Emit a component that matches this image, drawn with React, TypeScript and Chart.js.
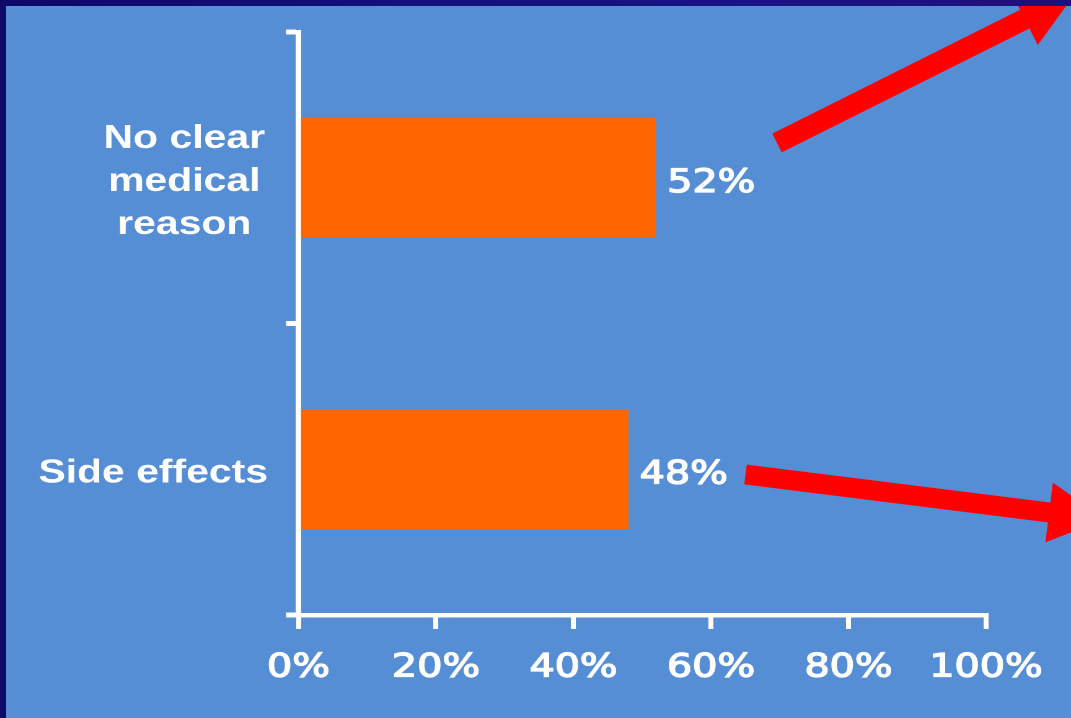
import { useEffect, useRef } from 'react';
import { Chart, registerables } from 'chart.js';

Chart.register(...registerables);

// Reasons and the share of each
const categories: string[][] = [['No clear', 'medical', 'reason'], ['Side effects']];
const shares: number[] = [52, 48];
const xTickValues: number[] = [0, 20, 40, 60, 80, 100];

// The slide is drawn narrow and then widened on screen
const PAGE_W = 1071;
const PAGE_H = 718;
const CANVAS_W = 864;
const STRETCH = PAGE_W / CANVAS_W;

const BLUE = '#558ED5';
const ORANGE = '#FF6600';
const WHITE = '#FFFFFF';
const RED = '#FF0000';

const TICK_FONT = '"DejaVu Sans", Verdana, sans-serif';
const LABEL_FONT = '"Liberation Sans", Arial, sans-serif';

// Decorative arrows (page pixels): tail centre, angle, shaft length, shaft half width, head half width, head length
const arrows = [
  { x: 777, y: 143, angle: Math.atan2(-125, 250), len: 277, hw: 10.5, hh: 29, hl: 56 },
  { x: 745.5, y: 474.5, angle: Math.atan2(38, 304), len: 306, hw: 10, hh: 30, hl: 56 },
];

function drawArrow(ctx: CanvasRenderingContext2D, a: typeof arrows[number]) {
  ctx.save();
  ctx.translate(a.x, a.y);
  ctx.rotate(a.angle);
  ctx.beginPath();
  ctx.moveTo(0, -a.hw);
  ctx.lineTo(a.len, -a.hw);
  ctx.lineTo(a.len, -a.hh);
  ctx.lineTo(a.len + a.hl, 0);
  ctx.lineTo(a.len, a.hh);
  ctx.lineTo(a.len, a.hw);
  ctx.lineTo(0, a.hw);
  ctx.closePath();
  ctx.fill();
  ctx.restore();
}

const slideDecor = {
  id: 'slideDecor',
  afterDraw(chart: Chart) {
    const ctx = chart.ctx;
    const yScale = chart.scales.y;

    // Category labels: block right-aligned to the axis, lines centred within it
    ctx.save();
    ctx.fillStyle = WHITE;
    ctx.strokeStyle = WHITE;
    ctx.font = `bold 33px ${LABEL_FONT}`;
    ctx.textAlign = 'center';
    ctx.textBaseline = 'alphabetic';
    categories.forEach((lines, i) => {
      const cy = yScale.getPixelForValue(i);
      const blockRight = (lines.length > 1 ? 265 : 268) / STRETCH;
      const maxW = Math.max(...lines.map((l) => ctx.measureText(l).width));
      const cx = blockRight - maxW / 2;
      lines.forEach((line, j) => {
        ctx.fillText(line, cx, cy + 13 + (j - (lines.length - 1) / 2) * 43);
      });
    });

    // Value labels at the end of each bar
    ctx.font = `32px ${TICK_FONT}`;
    ctx.textAlign = 'left';
    ctx.lineWidth = 1.3;
    ctx.lineJoin = 'round';
    const meta = chart.getDatasetMeta(0);
    meta.data.forEach((el: any, i: number) => {
      const text = `${shares[i]}%`;
      ctx.strokeText(text, el.x + 9, el.y + 14);
      ctx.fillText(text, el.x + 9, el.y + 14);
    });
    ctx.restore();

    // Red arrows, drawn in page pixels and clipped to the slide body
    ctx.save();
    ctx.scale(1 / STRETCH, 1);
    ctx.beginPath();
    ctx.rect(6, 6, PAGE_W, PAGE_H);
    ctx.clip();
    ctx.fillStyle = RED;
    arrows.forEach((a) => drawArrow(ctx, a));
    ctx.restore();
  },
};

export default function App() {
  const canvasRef = useRef<HTMLCanvasElement | null>(null);

  useEffect(() => {
    if (!canvasRef.current) return;
    const axisLeft = 298.5 / STRETCH;
    const plotRight = 986 / STRETCH;
    const chart = new Chart(canvasRef.current, {
      type: 'bar',
      data: {
        labels: categories.map((c) => c.join(' ')),
        datasets: [
          {
            data: shares,
            backgroundColor: ORANGE,
            borderWidth: 0,
            categoryPercentage: 1,
            barPercentage: 0.41,
          },
        ],
      },
      options: {
        indexAxis: 'y',
        responsive: false,
        animation: false,
        devicePixelRatio: 2,
        layout: { padding: { top: 32, right: CANVAS_W - plotRight, bottom: 0, left: 0 } },
        plugins: { legend: { display: false }, tooltip: { enabled: false } },
        scales: {
          x: {
            min: 0,
            max: 100,
            afterBuildTicks: (scale: any) => {
              scale.ticks = xTickValues.map((v) => ({ value: v }));
            },
            afterFit: (scale: any) => {
              scale.height = PAGE_H - 615;
            },
            border: { display: true, color: WHITE, width: 4.5 },
            grid: {
              drawOnChartArea: false,
              drawTicks: true,
              tickLength: 14,
              color: WHITE,
              lineWidth: 4,
            },
            ticks: {
              color: WHITE,
              padding: 20,
              font: { family: TICK_FONT, size: 32 },
              textStrokeColor: WHITE,
              textStrokeWidth: 1.3,
              callback: (v: any) => `${v}%`,
            },
          },
          y: {
            afterFit: (scale: any) => {
              scale.width = axisLeft;
            },
            border: { display: true, color: WHITE, width: 4.5 },
            grid: {
              drawOnChartArea: false,
              drawTicks: true,
              tickLength: 10,
              color: WHITE,
              lineWidth: 5,
            },
            ticks: { display: false },
          },
        },
      },
      plugins: [slideDecor],
    });
    return () => chart.destroy();
  }, []);

  return (
    <div
      style={{
        position: 'fixed',
        left: 0,
        top: 0,
        width: PAGE_W,
        height: PAGE_H,
        overflow: 'hidden',
        background: 'linear-gradient(to right, #0e0868, #140f7d 40%, #1a1287 70%, #22107a)',
      }}
    >
      <div
        style={{
          position: 'absolute',
          left: 6,
          top: 6,
          right: 0,
          bottom: 0,
          background: BLUE,
        }}
      />
      <canvas
        ref={canvasRef}
        width={CANVAS_W}
        height={PAGE_H}
        style={{
          position: 'absolute',
          left: 0,
          top: 0,
          transformOrigin: '0 0',
          transform: `scaleX(${STRETCH})`,
        }}
      />
    </div>
  );
}
